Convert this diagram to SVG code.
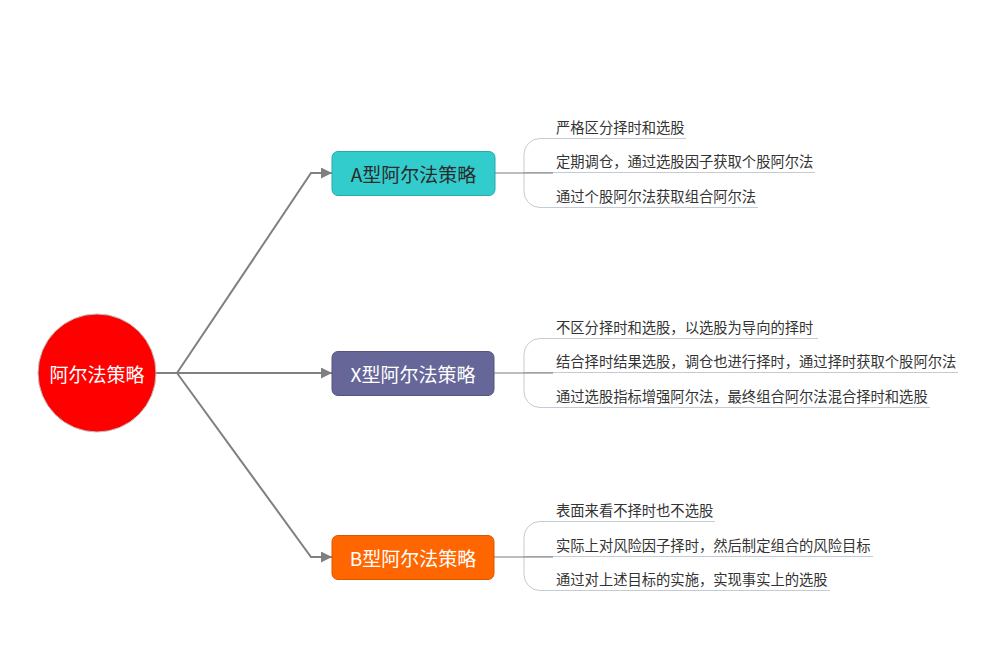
<svg xmlns="http://www.w3.org/2000/svg" width="989" height="649" viewBox="0 0 989 649">
<style>
.conn{fill:none;stroke:#808080;stroke-width:2}
.br{fill:none;stroke:#c3cbd3;stroke-width:1}
.mid{fill:none;stroke:#7a7a7a;stroke-width:1}
.leaf{font-family:"Noto Sans CJK SC","Noto Sans",sans-serif;font-size:14.3px;fill:#333}
.nt{font-family:"Noto Sans CJK SC","Noto Sans",sans-serif;font-size:19px;text-anchor:middle;dominant-baseline:central}
</style>
<defs>
<marker id="arr" viewBox="0 0 10 10" refX="10" refY="5" markerWidth="11" markerHeight="11" markerUnits="userSpaceOnUse" orient="auto">
<path d="M0,0 L10,5 L0,10 z" fill="#808080"/>
</marker>
</defs>
<rect width="989" height="649" fill="#fff"/>
<g id="connectors">
<path class="conn" d="M156,373 H177"/>
<path class="conn" d="M177,373 L311,173 H332" marker-end="url(#arr)"/>
<path class="conn" d="M177,373 H332" marker-end="url(#arr)"/>
<path class="conn" d="M177,373 L311,557 H332" marker-end="url(#arr)"/>
</g>
<g id="root">
<circle cx="97" cy="373" r="59" fill="#ff0000" stroke="#c0c0c0" stroke-width="1"/>
<text class="nt" x="97" y="373" fill="#fff">阿尔法策略</text>
</g>
<g id="nodeA">
<rect x="332" y="151.5" width="163" height="44" rx="6" fill="#33cccc" stroke="#2aa9a9"/>
<text class="nt" x="413.5" y="173.5" fill="#2b2b2b">A型阿尔法策略</text>
</g>
<g id="nodeX">
<rect x="332" y="351.5" width="162" height="44" rx="6" fill="#666699" stroke="#55557f"/>
<text class="nt" x="413" y="373.5" fill="#fff">X型阿尔法策略</text>
</g>
<g id="nodeB">
<rect x="332" y="535.5" width="162" height="44" rx="6" fill="#ff6600" stroke="#d95700"/>
<text class="nt" x="413" y="557.5" fill="#fff">B型阿尔法策略</text>
</g>
<g id="leavesA">
<path class="br" d="M686,138.5 H540 A16,16 0 0 0 524,154.5 V191.5 A16,16 0 0 0 540,207.5 H758"/>
<path class="br" d="M524,172.5 H815"/>
<path class="mid" d="M495,173 H553"/>
<text class="leaf" x="556" y="133">严格区分择时和选股</text>
<text class="leaf" x="556" y="167">定期调仓，通过选股因子获取个股阿尔法</text>
<text class="leaf" x="556" y="202">通过个股阿尔法获取组合阿尔法</text>
</g>
<g id="leavesX">
<path class="br" d="M818,338.5 H540 A16,16 0 0 0 524,354.5 V391.5 A16,16 0 0 0 540,407.5 H930"/>
<path class="br" d="M524,372.5 H958"/>
<path class="mid" d="M494,373 H553"/>
<text class="leaf" x="556" y="333">不区分择时和选股，以选股为导向的择时</text>
<text class="leaf" x="556" y="367">结合择时结果选股，调仓也进行择时，通过择时获取个股阿尔法</text>
<text class="leaf" x="556" y="402">通过选股指标增强阿尔法，最终组合阿尔法混合择时和选股</text>
</g>
<g id="leavesB">
<path class="br" d="M715,521.5 H540 A16,16 0 0 0 524,537.5 V574.5 A16,16 0 0 0 540,590.5 H830"/>
<path class="br" d="M524,556.5 H873"/>
<path class="mid" d="M494,557 H553"/>
<text class="leaf" x="556" y="516">表面来看不择时也不选股</text>
<text class="leaf" x="556" y="551">实际上对风险因子择时，然后制定组合的风险目标</text>
<text class="leaf" x="556" y="585">通过对上述目标的实施，实现事实上的选股</text>
</g>
</svg>
